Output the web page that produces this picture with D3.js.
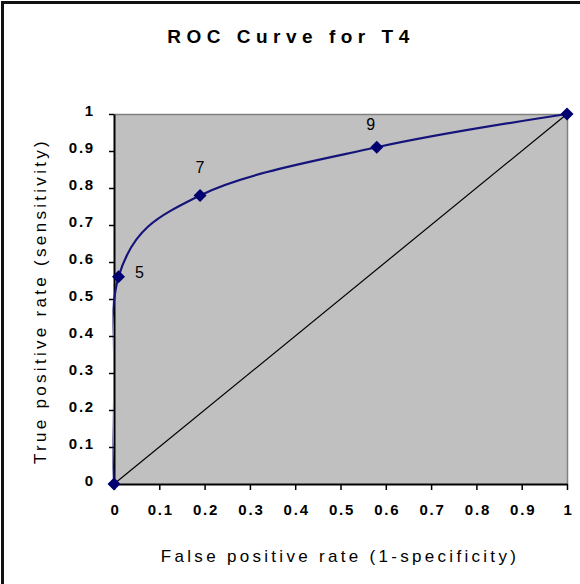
<!DOCTYPE html>
<html>
<head>
<meta charset="utf-8">
<script src="https://cdn.jsdelivr.net/npm/d3@7"></script>
<style>
  html, body { margin: 0; padding: 0; background: #fff; }
  svg { display: block; }
</style>
</head>
<body>
<svg id="chart" width="580" height="584"></svg>
<script>
// ---- data ----
const fpr = [0, 0.01, 0.19, 0.58, 1];
const tpr = [0, 0.56, 0.78, 0.91, 1];
const pointLabels = ["", "5", "7", "9", ""];
const diagX = [0, 1];
const diagY = [0, 1];
const tickValues = [0, 0.1, 0.2, 0.3, 0.4, 0.5, 0.6, 0.7, 0.8, 0.9, 1];
const xTickLabels = ["0", "0.1", "0.2", "0.3", "0.4", "0.5", "0.6", "0.7", "0.8", "0.9", "1"];
const yTickLabels = ["0", "0.1", "0.2", "0.3", "0.4", "0.5", "0.6", "0.7", "0.8", "0.9", "1"];
const titleText = "ROC Curve for T4";
const xTitle = "False positive rate (1-specificity)";
const yTitle = "True positive rate (sensitivity)";

// ---- layout ----
const svg = d3.select("#chart");
const pL = 114, pR = 567, pT = 114, pB = 484;
const x = d3.scaleLinear().domain([0, 1]).range([pL, pR]);
const y = d3.scaleLinear().domain([0, 1]).range([pB, pT]);

// outer frame (cropped at right/bottom in the reference)
svg.append("rect").attr("x", 2.5).attr("y", 2.5).attr("width", 700).attr("height", 700)
  .attr("fill", "#fff").attr("stroke", "#111").attr("stroke-width", 3);

// plot area
svg.append("rect").attr("x", pL).attr("y", pT)
  .attr("width", pR - pL).attr("height", pB - pT)
  .attr("fill", "#c0c0c0");
svg.append("path")
  .attr("d", `M${pL},${pT + 0.5}H${pR + 0.5}V${pB}`)
  .attr("fill", "none").attr("stroke", "#808080").attr("stroke-width", 1.5);

// title
svg.append("text").attr("x", 291).attr("y", 36)
  .attr("text-anchor", "middle").attr("dominant-baseline", "central")
  .style("font-family", "'Liberation Sans', Arial, sans-serif")
  .style("font-weight", "bold").style("font-size", "19px")
  .style("letter-spacing", "5.5px")
  .text(titleText);

// axes
const fmtX = (d, i) => xTickLabels[i];
const fmtY = (d, i) => yTickLabels[i];
const xAxis = svg.append("g").attr("transform", `translate(0,${pB})`)
  .call(d3.axisBottom(x).tickValues(tickValues).tickFormat(fmtX).tickSize(6).tickSizeOuter(0).tickPadding(20));
const yAxis = svg.append("g").attr("transform", `translate(${pL},0)`)
  .call(d3.axisLeft(y).tickValues(tickValues).tickFormat(fmtY).tickSize(5).tickSizeOuter(0).tickPadding(14));

[xAxis, yAxis].forEach(g => {
  g.select(".domain").attr("stroke", "#000").attr("stroke-width", 2);
  g.selectAll(".tick line").attr("stroke", "#000").attr("stroke-width", 1.5);
  g.selectAll("text")
    .style("font-family", "'Liberation Sans', Arial, sans-serif")
    .style("font-weight", "bold").style("font-size", "15px")
    .style("letter-spacing", "1.8px")
    .attr("fill", "#000");
});
xAxis.selectAll("text").attr("dy", "0.32em").attr("dx", "1px");
yAxis.selectAll("text").attr("dy", "0.32em").attr("y", -3);

// axis titles
svg.append("text").attr("x", 340).attr("y", 556)
  .attr("text-anchor", "middle").attr("dominant-baseline", "central")
  .style("font-family", "'Liberation Sans', Arial, sans-serif")
  .style("font-size", "17px").style("letter-spacing", "3.3px")
  .text(xTitle);
svg.append("text").attr("transform", "translate(40,301) rotate(-90)")
  .attr("text-anchor", "middle").attr("dominant-baseline", "central")
  .style("font-family", "'Liberation Sans', Arial, sans-serif")
  .style("font-size", "17px").style("letter-spacing", "3.3px")
  .text(yTitle);

// diagonal reference line
svg.append("line")
  .attr("x1", x(diagX[0])).attr("y1", y(diagY[0]))
  .attr("x2", x(diagX[1])).attr("y2", y(diagY[1]))
  .attr("stroke", "#000").attr("stroke-width", 1.2);

// ROC curve (smoothed)
const pts = fpr.map((d, i) => [x(d), y(tpr[i])]);
svg.append("defs").append("clipPath").attr("id", "clip")
  .append("rect").attr("x", pL - 1.5).attr("y", 0).attr("width", 600).attr("height", 600);
svg.append("path")
  .attr("clip-path", "url(#clip)")
  .attr("d", d3.line().curve(d3.curveCardinal.tension(0))(pts))
  .attr("fill", "none").attr("stroke", "#14147a").attr("stroke-width", 2.2);

// markers
svg.selectAll(".mk").data(pts).enter().append("path")
  .attr("class", "mk")
  .attr("transform", d => `translate(${d[0]},${d[1]})`)
  .attr("d", "M0,-6.5L6.5,0L0,6.5L-6.5,0Z")
  .attr("fill", "#000070");

// point labels
const labelOffsets = [[0, 0], [21, -4], [0, -28], [-6, -23], [0, 0]];
svg.selectAll(".pl").data(pts).enter().append("text")
  .attr("class", "pl")
  .attr("x", (d, i) => d[0] + labelOffsets[i][0])
  .attr("y", (d, i) => d[1] + labelOffsets[i][1])
  .attr("text-anchor", "middle").attr("dominant-baseline", "central")
  .style("font-family", "'Liberation Sans', Arial, sans-serif")
  .style("font-size", "16px")
  .text((d, i) => pointLabels[i]);
</script>
</body>
</html>
